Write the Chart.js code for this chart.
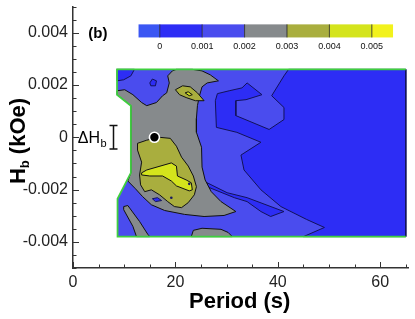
<!DOCTYPE html>
<html><head><meta charset="utf-8">
<script src="https://cdn.jsdelivr.net/npm/chart.js@4/dist/chart.umd.min.js"></script>
<style>html,body{margin:0;padding:0;background:#fff}canvas{display:block}</style>
</head><body>
<canvas id="c" width="415" height="319"></canvas>
<script>
// ---------- axis ticks ----------
const xTicks = [0, 20, 40, 60];
const xTickLabels = ['0', '20', '40', '60'];
const xMinorStep = 5;
const yTicks = [-0.004, -0.002, 0, 0.002, 0.004];
const yTickLabels = ['-0.004', '-0.002', '0', '0.002', '0.004'];
const yMinorStep = 0.0005;

// ---------- colour bar levels ----------
const levels = [0, 0.001, 0.002, 0.003, 0.004, 0.005];
const levelLabels = ['0', '0.001', '0.002', '0.003', '0.004', '0.005'];

// ---------- contour regions: [Period (s), Hb (kOe)] ----------
const domain = [[8.6,0.0026],[65,0.0026],[65,-0.0038],[8.7,-0.0038],[8.7,-0.00235],[11.3,-0.00136],[11.3,0.00121],[8.6,0.00163]];
const domainEdge = [[65,0.0026],[8.6,0.0026],[8.6,0.00163],[11.3,0.00121],[11.3,-0.00136],[8.7,-0.00235],[8.7,-0.0038],[65,-0.0038]];
const lowRegion = [[42.1,0.0026],[65,0.0026],[65,-0.0038],[45.0,-0.0038],[49.1,-0.00345],[45.6,-0.00314],[40.6,-0.00265],[36.7,-0.00201],[33.4,-0.00125],[32.8,-0.00068],[36.7,-0.00019],[32.0,0.00019],[28.0,0.00038],[27.8,0.0014],[28.2,0.00167],[30.5,0.00178],[33.0,0.00189],[34.0,0.00208],[36.9,0.00163],[33.8,0.00144],[31.8,0.0014],[31.8,0.00083],[38.3,0.0003],[41.2,0.00068],[41.2,0.00114],[38.8,0.00159],[41.2,0.00235]];
const lowSliver = [[26.2,-0.00174],[30.1,-0.00212],[34.0,-0.00231],[41.2,-0.00284],[38.6,-0.00303],[36.7,-0.00284],[34.0,-0.00246],[31.5,-0.00231],[26.2,-0.00189]];
const lowCorner = [[8.6,0.0026],[12.0,0.0026],[11.3,0.00235],[9.9,0.0022],[8.6,0.00216]];
const midRegion = [[8.6,0.00178],[10.1,0.00182],[11.7,0.00163],[13.4,0.00133],[14.4,0.00121],[16.3,0.00133],[17.5,0.00159],[18.3,0.0017],[18.8,0.00208],[18.5,0.00235],[19.4,0.00254],[20.2,0.0026],[23.3,0.0026],[25.2,0.00254],[26.8,0.00239],[28.4,0.00216],[26.2,0.00208],[25.2,0.00193],[24.7,0.00159],[24.3,0.00121],[24.1,0.00072],[24.1,0.00019],[25.1,-0.00038],[25.2,-0.00114],[25.8,-0.00163],[27.0,-0.00208],[28.9,-0.00246],[31.8,-0.00284],[29.5,-0.00299],[25.6,-0.00303],[21.8,-0.00295],[17.9,-0.0028],[15.3,-0.00258],[13.6,-0.00227],[12.2,-0.00197],[10.7,-0.00167],[11.3,-0.00136],[11.3,0.00121],[8.6,0.00163]];
const midStrip = [[9.9,-0.00265],[10.7,-0.00261],[13.0,-0.00322],[14.6,-0.00371],[15.0,-0.0038],[12.4,-0.0038],[11.7,-0.00341],[9.9,-0.00277]];
const midBottom = [[23.1,-0.0038],[23.5,-0.00356],[25.2,-0.00348],[28.9,-0.00352],[30.3,-0.00364],[31.1,-0.0038]];
const lowIslandTop = [[15.0,0.00208],[15.5,0.00223],[16.3,0.00216],[16.1,0.00197],[15.2,0.00197]];
const lowIslandMid = [[15.5,-0.00235],[16.5,-0.00231],[17.3,-0.00242],[16.1,-0.00246]];
const highRegion = [[12.6,-0.00023],[14.4,-0.00011],[16.9,0],[19.0,-0.00004],[20.2,-0.00034],[21.2,-0.00076],[22.5,-0.0011],[23.5,-0.00148],[24.1,-0.00189],[23.7,-0.0022],[22.5,-0.0025],[21.2,-0.00269],[19.8,-0.00265],[18.5,-0.00246],[16.9,-0.0022],[15.3,-0.00201],[14.0,-0.00208],[13.2,-0.00182],[13.0,-0.00144],[13.4,-0.00095],[12.6,-0.00049]];
const highEye = [[20.0,0.00182],[21.4,0.00197],[22.9,0.00193],[24.3,0.0017],[25.6,0.0014],[23.9,0.0014],[22.1,0.00152],[20.8,0.00163]];
const peakRegion = [[13.4,-0.00136],[14.4,-0.00125],[19.2,-0.00098],[20.2,-0.0011],[20.4,-0.00148],[22.1,-0.00163],[23.1,-0.00174],[23.3,-0.00201],[22.7,-0.00205],[20.2,-0.00186],[19.2,-0.00167],[17.5,-0.00148],[15.0,-0.00148],[13.4,-0.00144]];
const peakEye = [[21.9,0.0017],[22.5,0.00174],[23.3,0.00163],[22.7,0.00159]];
const lowDots = [[19.2,-0.00231],[22.7,-0.00178]];
const biasPoint = [[15.9,0]];

// ---------- styles ----------
const C = {neg:'#3b57f3', low:'#2d2df5', mid1:'#4a4cee', mid2:'#868a8c', high:'#a9ae3e', peak:'#d4e41c', top:'#f2f21c'};
const bandColors = [C.neg, C.low, C.mid1, C.mid2, C.high, C.peak, C.top];
const FONT = '"Liberation Sans", Arial, Helvetica, sans-serif';

function poly(pts, fill, stroke, w) {
  const data = pts.map(p => ({x:p[0], y:p[1]}));
  data.push({x:pts[0][0], y:pts[0][1]});
  return {data, fill:'shape', backgroundColor:fill, borderColor:stroke, borderWidth:w, pointRadius:0, tension:0};
}
function dots(pts, r, fill, stroke, w) {
  return {data: pts.map(p => ({x:p[0], y:p[1]})), showLine:false, fill:false, pointRadius:r,
          pointBackgroundColor:fill, pointBorderColor:stroke, pointBorderWidth:w, pointHoverRadius:r};
}
const line1 = '#12125a', lineK = '#111';
const datasets = [
  poly(domain, C.mid1, 'rgba(0,0,0,0)', 0),
  poly(lowRegion, C.low, line1, 1),
  poly(lowSliver, C.low, line1, 1),
  poly(lowCorner, C.low, line1, 1),
  poly(midRegion, C.mid2, lineK, 1),
  poly(midStrip, C.mid2, lineK, 1),
  poly(midBottom, C.mid2, lineK, 1),
  poly(lowIslandTop, C.low, line1, 1),
  poly(lowIslandMid, C.low, line1, 1),
  poly(highRegion, C.high, lineK, 1),
  poly(highEye, C.high, lineK, 1),
  poly(peakRegion, C.peak, lineK, 1),
  poly(peakEye, C.peak, lineK, 1),
  dots(lowDots, 1.3, '#1a1a60', '#1a1a60', 0),
  {data: domainEdge.map(p => ({x:p[0], y:p[1]})), fill:false, borderColor:'#3fcf3f', borderWidth:1.8, pointRadius:0, tension:0},
  dots(biasPoint, 5, '#000', '#fff', 1.6)
];
datasets.forEach((d, i) => { d.order = datasets.length - i; });

const cbar = {left:12.8, right:62.5, top:0.00432, bottom:0.00382, lo:-0.0005, hi:0.0055};
const tag = {x:4.85, y:0.004, text:'(b)'};
const dH = {textX:0.95, barX:7.8, half:0.00045};

const deco = {
  id:'deco',
  afterDatasetsDraw(chart) {
    const {ctx, scales:{x, y}, chartArea:a} = chart;
    ctx.save();
    // inner ticks
    ctx.strokeStyle = '#333'; ctx.lineWidth = 1;
    for (let i = -10; i <= 10; i++) {
      const v = i * yMinorStep;
      const py = Math.round(y.getPixelForValue(v)) + 0.5;
      const major = yTicks.some(t => Math.abs(t - v) < 1e-9);
      ctx.beginPath(); ctx.moveTo(a.left, py); ctx.lineTo(a.left + (major ? 6 : 3.5), py); ctx.stroke();
    }
    for (let i = 0; i * xMinorStep <= 65; i++) {
      const v = i * xMinorStep;
      const px = Math.round(x.getPixelForValue(v)) + 0.5;
      const major = xTicks.includes(v);
      ctx.beginPath(); ctx.moveTo(px, a.bottom); ctx.lineTo(px, a.bottom - (major ? 6 : 3.5)); ctx.stroke();
    }
    // colour bar
    const L = x.getPixelForValue(cbar.left), R = x.getPixelForValue(cbar.right);
    const T = y.getPixelForValue(cbar.top), B = y.getPixelForValue(cbar.bottom);
    const lp = v => L + (v - cbar.lo) / (cbar.hi - cbar.lo) * (R - L);
    const edges = [cbar.lo, ...levels, cbar.hi];
    for (let i = 0; i < edges.length - 1; i++) {
      ctx.fillStyle = bandColors[i];
      ctx.fillRect(lp(edges[i]), T, lp(edges[i + 1]) - lp(edges[i]), B - T);
    }
    ctx.strokeStyle = '#222'; ctx.lineWidth = 0.8;
    levels.forEach(v => { const px = lp(v); ctx.beginPath(); ctx.moveTo(px, T); ctx.lineTo(px, B); ctx.stroke(); });
    ctx.fillStyle = '#111'; ctx.font = '9px ' + FONT; ctx.textAlign = 'center'; ctx.textBaseline = 'alphabetic';
    levels.forEach((v, i) => ctx.fillText(levelLabels[i], lp(v), B + 12));
    // panel tag
    ctx.font = 'bold 15px ' + FONT; ctx.fillStyle = '#000';
    ctx.fillText(tag.text, x.getPixelForValue(tag.x), y.getPixelForValue(tag.y) + 5.5);
    // Delta H_b annotation
    const y0 = y.getPixelForValue(0);
    ctx.textAlign = 'left';
    ctx.font = '16px ' + FONT;
    const tx = x.getPixelForValue(dH.textX);
    ctx.fillText('ΔH', tx, y0 + 5.5);
    const w = ctx.measureText('ΔH').width;
    ctx.font = '11px ' + FONT;
    ctx.fillText('b', tx + w + 0.5, y0 + 9.5);
    const bx = Math.round(x.getPixelForValue(dH.barX)) + 0.5;
    const bt = y.getPixelForValue(dH.half), bb = y.getPixelForValue(-dH.half);
    ctx.strokeStyle = '#111'; ctx.lineWidth = 1.5;
    ctx.beginPath();
    ctx.moveTo(bx, bt); ctx.lineTo(bx, bb);
    ctx.moveTo(bx - 4, bt); ctx.lineTo(bx + 4, bt);
    ctx.moveTo(bx - 4, bb); ctx.lineTo(bx + 4, bb);
    ctx.stroke();
    ctx.restore();
  },
  afterDraw(chart) {
    const {ctx, chartArea:a} = chart;
    ctx.save();
    ctx.fillStyle = '#000';
    // x title
    ctx.font = 'bold 22px ' + FONT; ctx.textAlign = 'center'; ctx.textBaseline = 'alphabetic';
    ctx.fillText('Period (s)', (a.left + a.right) / 2 - 1, 308);
    // y title (rotated) H_b (kOe)
    ctx.translate(25, 141);
    ctx.rotate(-Math.PI / 2);
    ctx.textAlign = 'left';
    const big = 'bold 22px ' + FONT, small = 'bold 13px ' + FONT;
    ctx.font = big; const wH = ctx.measureText('H').width; const wR = ctx.measureText(' (kOe)').width;
    ctx.font = small; const wb = ctx.measureText('b').width;
    let sx = -(wH + wb + wR) / 2;
    ctx.font = big; ctx.fillText('H', sx, 0); sx += wH;
    ctx.font = small; ctx.fillText('b', sx, 4); sx += wb;
    ctx.font = big; ctx.fillText(' (kOe)', sx, 0);
    ctx.restore();
  }
};

new Chart(document.getElementById('c'), {
  type:'line',
  data:{datasets},
  options:{
    responsive:false, animation:false, events:[],
    layout:{padding:{top:5, right:5, left:0, bottom:0}},
    plugins:{legend:{display:false}, tooltip:{enabled:false}},
    scales:{
      x:{type:'linear', min:0, max:65.5,
         afterFit(s){ s.height = 51; s.paddingLeft = 0; s.paddingRight = 0; },
         afterBuildTicks(s){ s.ticks = xTicks.map(v => ({value:v})); },
         grid:{display:false, drawTicks:false}, border:{display:true, color:'#333', width:1.5},
         ticks:{autoSkip:false, maxRotation:0, padding:5, color:'#222', font:{family:FONT, size:16},
                callback:(v, i) => xTickLabels[i]}},
      y:{type:'linear', min:-0.005, max:0.005,
         afterFit(s){ s.width = 73; s.paddingTop = 0; s.paddingBottom = 0; },
         afterBuildTicks(s){ s.ticks = yTicks.map(v => ({value:v})); },
         grid:{display:false, drawTicks:false}, border:{display:true, color:'#333', width:1.5},
         ticks:{autoSkip:false, padding:5, color:'#222', font:{family:FONT, size:16},
                callback:(v, i) => yTickLabels[i]}}
    }
  },
  plugins:[deco]
});
</script>
</body></html>
